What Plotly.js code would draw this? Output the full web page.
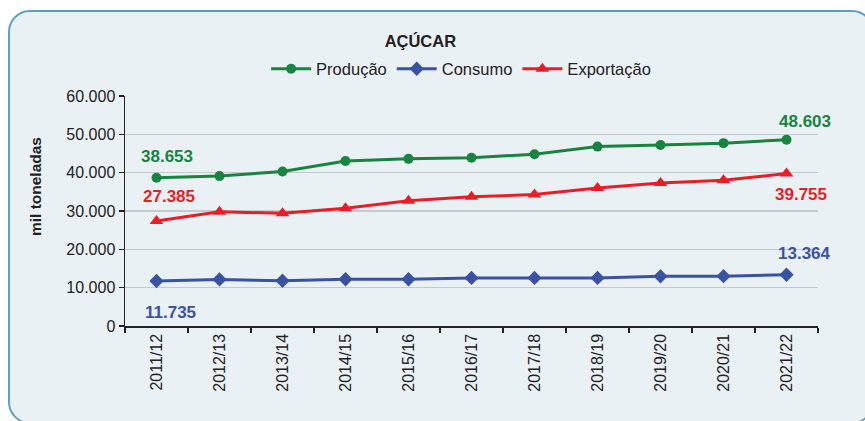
<!DOCTYPE html>
<html>
<head>
<meta charset="utf-8">
<script src="https://cdn.plot.ly/plotly-3.0.1.min.js"></script>
<style>
html,body{margin:0;padding:0;background:#ffffff;overflow:hidden;}
#frame{position:absolute;left:8px;top:10px;width:866px;height:414px;border:2px solid #5d9fc2;border-radius:22px;background:#eaf1f5;box-sizing:border-box;}
#chart{position:absolute;left:0;top:0;width:865px;height:421px;}
</style>
</head>
<body>
<div id="frame"></div>
<div id="chart"></div>
<script>
const categories = ["2011/12","2012/13","2013/14","2014/15","2015/16","2016/17","2017/18","2018/19","2019/20","2020/21","2021/22"];
const producao   = [38653, 39100, 40300, 43050, 43600, 43900, 44800, 46800, 47200, 47700, 48603];
const consumo    = [11735, 12150, 11800, 12200, 12200, 12550, 12550, 12550, 12950, 13000, 13364];
const exportacao = [27385, 29800, 29400, 30700, 32700, 33700, 34300, 36000, 37300, 38000, 39755];
const yTicks = [0, 10000, 20000, 30000, 40000, 50000, 60000];

const GREEN = "#17843f", BLUE = "#3a52a4", RED = "#ec1c24";
const FONT = "Liberation Sans, Arial, sans-serif";

const traces = [
  {x: categories, y: producao, name: "Produção", mode: "lines+markers",
   line: {color: GREEN, width: 3}, marker: {symbol: "circle", size: 10, color: GREEN}},
  {x: categories, y: consumo, name: "Consumo", mode: "lines+markers",
   line: {color: BLUE, width: 3}, marker: {symbol: "diamond", size: 11, color: BLUE}},
  {x: categories, y: exportacao, name: "Exportação", mode: "lines+markers",
   line: {color: RED, width: 3}, marker: {symbol: "triangle-up", size: 12, color: RED}}
];

function lbl(v){ return (v/1000).toFixed(3); }
const last = categories.length - 1;
const labelFont = (c) => ({family: FONT, size: 17, color: c});

const annotations = [
  {x: categories[0], y: producao[0], text: "<b>"+lbl(producao[0])+"</b>", xshift: 10, yshift: 21, font: labelFont(GREEN)},
  {x: categories[0], y: exportacao[0], text: "<b>"+lbl(exportacao[0])+"</b>", xshift: 12, yshift: 25, font: labelFont(RED)},
  {x: categories[0], y: consumo[0], text: "<b>"+lbl(consumo[0])+"</b>", xshift: 14, yshift: -31, font: labelFont(BLUE)},
  {x: categories[last], y: producao[last], text: "<b>"+lbl(producao[last])+"</b>", xshift: 18, yshift: 18, font: labelFont(GREEN)},
  {x: categories[last], y: exportacao[last], text: "<b>"+lbl(exportacao[last])+"</b>", xshift: 14, yshift: -21, font: labelFont(RED)},
  {x: categories[last], y: consumo[last], text: "<b>"+lbl(consumo[last])+"</b>", xshift: 18, yshift: 21, font: labelFont(BLUE)}
].map(a => Object.assign({xref: "x", yref: "y", showarrow: false, xanchor: "center", yanchor: "middle"}, a));

annotations.push({xref: "paper", yref: "paper", x: -0.13, y: 0.608, text: "<b>mil toneladas</b>",
  textangle: -90, showarrow: false, xanchor: "center", yanchor: "middle",
  font: {family: FONT, size: 15.5, color: "#222"}});

const layout = {
  width: 865, height: 421,
  paper_bgcolor: "rgba(0,0,0,0)", plot_bgcolor: "rgba(0,0,0,0)",
  margin: {l: 125, r: 47, t: 96, b: 95},
  separators: ",.",
  font: {family: FONT, size: 16, color: "#222"},
  title: {text: "<b>AÇÚCAR</b>", xref: "container", x: 0.486, xanchor: "center",
          yref: "container", y: 1 - 41.5/421, yanchor: "middle",
          font: {family: FONT, size: 16.5, color: "#222"}},
  showlegend: true,
  legend: {orientation: "h", xref: "paper", x: 0.485, xanchor: "center", y: 1 + (96-69)/230, yanchor: "middle",
           bgcolor: "rgba(0,0,0,0)", font: {family: FONT, size: 16.5, color: "#222"}, itemwidth: 40, tracegroupgap: 0},
  xaxis: {type: "category", tickangle: -90, ticks: "outside", ticklen: 5, tickwidth: 1.5, tickcolor: "#222",
          tickson: "boundaries", showline: true, linecolor: "#222", linewidth: 1.5, showgrid: false,
          tickfont: {family: FONT, size: 16, color: "#222"}, range: [-0.5, 10.5], fixedrange: true},
  yaxis: {range: [0, 60000], tickvals: yTicks, tickformat: ",d", ticks: "outside", ticklen: 5, tickwidth: 1.5,
          tickcolor: "#222", showline: true, linecolor: "#222", linewidth: 1.5, showgrid: true,
          gridcolor: "#c6c9cb", gridwidth: 1.5, zeroline: false,
          tickfont: {family: FONT, size: 16, color: "#222"}},
  annotations: annotations
};

Plotly.newPlot("chart", traces, layout, {displayModeBar: false, staticPlot: true});
</script>
</body>
</html>
